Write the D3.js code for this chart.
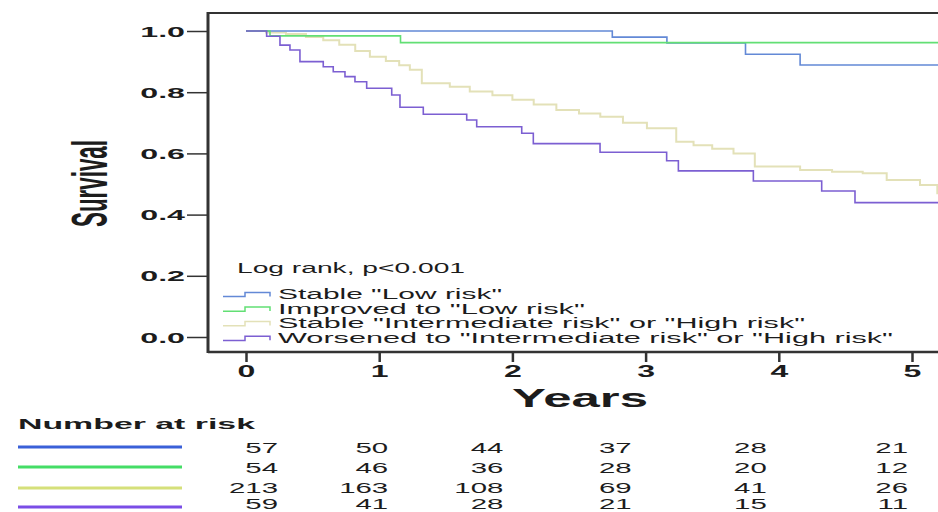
<!DOCTYPE html>
<html>
<head>
<meta charset="utf-8">
<script src="https://cdn.jsdelivr.net/npm/d3@7"></script>
<style>
  html, body { margin: 0; padding: 0; background: #fff; }
  svg { display: block; font-family: "Liberation Sans", Arial, sans-serif; }
</style>
</head>
<body>
<svg id="chart" width="938" height="512"></svg>
<script>
// ---------------- data ----------------
const groupNames = [
  'Stable "Low risk"',
  'Improved to "Low risk"',
  'Stable "Intermediate risk" or "High risk"',
  'Worsened to "Intermediate risk" or "High risk"'
];
const yearTicks = [0, 1, 2, 3, 4, 5];
const survivalTicks = [0.0, 0.2, 0.4, 0.6, 0.8, 1.0];

const stableLowTimes = [0, 2.75, 3.16, 3.75, 4.16];
const stableLowSurv  = [1, 0.980, 0.961, 0.924, 0.889];

const improvedLowTimes = [0, 0.18, 1.16];
const improvedLowSurv  = [1, 0.984, 0.962];

const stableIntHighTimes = [0, 0.15, 0.3, 0.45, 0.58, 0.7, 0.82, 0.93, 1.05, 1.15, 1.23, 1.32, 1.53, 1.68, 1.85, 2.0, 2.16, 2.33, 2.5, 2.66, 2.83, 3.01, 3.23, 3.36, 3.5, 3.66, 3.82, 4.16, 4.4, 4.63, 4.81, 5.06, 5.19];
const stableIntHighSurv  = [1, 0.995, 0.99, 0.98, 0.97, 0.955, 0.935, 0.916, 0.902, 0.888, 0.873, 0.829, 0.818, 0.802, 0.79, 0.775, 0.76, 0.742, 0.73, 0.72, 0.70, 0.682, 0.638, 0.627, 0.615, 0.60, 0.557, 0.546, 0.54, 0.535, 0.513, 0.497, 0.47];

const worsenedTimes = [0, 0.155, 0.255, 0.33, 0.405, 0.58, 0.655, 0.743, 0.818, 0.906, 1.094, 1.156, 1.331, 1.657, 1.732, 2.07, 2.157, 2.658, 3.158, 3.246, 3.809, 4.322, 4.572];
const worsenedSurv  = [1, 0.983, 0.954, 0.938, 0.900, 0.883, 0.867, 0.851, 0.834, 0.813, 0.791, 0.751, 0.728, 0.709, 0.687, 0.666, 0.632, 0.604, 0.576, 0.543, 0.510, 0.477, 0.439];

const followUpEnd = 5.6;

const riskStableLow     = [57, 50, 44, 37, 28, 21];
const riskImprovedLow   = [54, 46, 36, 28, 20, 12];
const riskStableIntHigh = [213, 163, 108, 69, 41, 26];
const riskWorsened      = [59, 41, 28, 21, 15, 11];

// ---------------- styles / layout ----------------
const curveColors = ["#6389d6", "#62df74", "#e3e1b8", "#7c5fd2"];
const tableColors = ["#3a60d8", "#44dd66", "#d5e07a", "#7a4de6"];
const ink = "#1c1c1c";
const frame = { left: 208, top: 13, bottom: 352, right: 980 };
const riskColNudge = [32, 9, -9, -14, -12, -4];

const series = [
  { times: stableLowTimes, surv: stableLowSurv },
  { times: improvedLowTimes, surv: improvedLowSurv },
  { times: stableIntHighTimes, surv: stableIntHighSurv },
  { times: worsenedTimes, surv: worsenedSurv }
];
const riskRows = [riskStableLow, riskImprovedLow, riskStableIntHigh, riskWorsened];

const svg = d3.select("#chart");

const x = d3.scaleLinear().domain([0, 5]).range([246, 912]);
const y = d3.scaleLinear().domain([0, 1]).range([337, 31]);

function txt(parent, s, tx, ty, o) {
  const sx = o.sx || 2;
  const t = parent.append("text")
    .attr("transform", `translate(${tx},${ty}) scale(${sx},1)`)
    .attr("text-anchor", o.anchor || "start")
    .attr("fill", ink)
    .style("font-size", o.size + "px")
    .style("font-weight", o.weight || "normal")
    .text(s);
  if (o.width) t.attr("textLength", o.width / sx).attr("lengthAdjust", "spacingAndGlyphs");
  return t;
}

// clip for curves
svg.append("defs").append("clipPath").attr("id", "plotclip")
  .append("rect").attr("x", frame.left).attr("y", frame.top)
  .attr("width", frame.right - frame.left).attr("height", frame.bottom - frame.top);

// curves
const line = d3.line().x(d => x(d[0])).y(d => y(d[1])).curve(d3.curveStepAfter);
const curveG = svg.append("g").attr("clip-path", "url(#plotclip)");
[2, 0, 1, 3].forEach(i => {
  const s = series[i];
  const pts = s.times.map((t, k) => [t, s.surv[k]]);
  pts.push([followUpEnd, s.surv[s.surv.length - 1]]);
  curveG.append("path").datum(pts)
    .attr("d", line)
    .attr("fill", "none")
    .attr("stroke", curveColors[i])
    .attr("stroke-width", i === 2 ? 2 : 1.6);
});

// frame
svg.append("line").attr("x1", frame.left).attr("x2", 938).attr("y1", frame.top).attr("y2", frame.top)
  .attr("stroke", "#333").attr("stroke-width", 2);
svg.append("line").attr("x1", frame.left).attr("x2", 938).attr("y1", frame.bottom).attr("y2", frame.bottom)
  .attr("stroke", "#333").attr("stroke-width", 2.5);
svg.append("line").attr("x1", frame.left).attr("x2", frame.left).attr("y1", frame.top - 1).attr("y2", frame.bottom + 1)
  .attr("stroke", "#333").attr("stroke-width", 3);

// y axis
const yAxisG = svg.append("g").attr("transform", `translate(${frame.left},0)`)
  .call(d3.axisLeft(y).tickValues(survivalTicks).tickSize(21).tickFormat(d3.format(".1f")));
yAxisG.select(".domain").remove();
yAxisG.selectAll(".tick line").attr("stroke", "#333").attr("stroke-width", 1.5);
yAxisG.selectAll(".tick text")
  .attr("x", null).attr("dy", null)
  .attr("transform", "translate(-23,5) scale(2.3,1)")
  .attr("fill", ink)
  .style("font-size", "14px").style("font-weight", "bold")
  .style("font-family", "'Liberation Sans', Arial, sans-serif");

// x axis
const xAxisG = svg.append("g").attr("transform", `translate(0,${frame.bottom})`)
  .call(d3.axisBottom(x).tickValues(yearTicks).tickSize(10).tickFormat(d3.format("d")));
xAxisG.select(".domain").remove();
xAxisG.selectAll(".tick line").attr("stroke", "#333").attr("stroke-width", 2.5);
xAxisG.selectAll(".tick text")
  .attr("y", null).attr("dy", null)
  .attr("transform", "translate(0,25) scale(2,1)")
  .attr("fill", ink)
  .style("font-size", "16px").style("font-weight", "bold")
  .style("font-family", "'Liberation Sans', Arial, sans-serif");

// axis titles
svg.append("text")
  .attr("transform", "translate(107,183.5) rotate(-90)")
  .attr("text-anchor", "middle")
  .attr("textLength", 87).attr("lengthAdjust", "spacingAndGlyphs")
  .attr("fill", ink)
  .style("font-size", "50px").style("font-weight", "bold")
  .text("Survival");
txt(svg, "Years", 580, 407, { size: 25, weight: "bold", anchor: "middle", width: 136 });

// legend
txt(svg, "Log rank, p<0.001", 237, 273, { size: 14, width: 228 });
const legendWidths = [224, 307, 527, 615];
groupNames.forEach((name, i) => {
  const yb = 299 + i * 14.6;
  const yl = yb - 2.4, yh = yb - 6.6;
  svg.append("path")
    .attr("d", `M223,${yl}H245V${yh}H270V${yh + 4}`)
    .attr("fill", "none").attr("stroke", curveColors[i]).attr("stroke-width", 1.5);
  txt(svg, name, 278, yb, { size: 14, width: legendWidths[i] });
});

// number at risk
txt(svg, "Number at risk", 18, 429, { size: 15, weight: "bold", width: 237 });
const rowY = [447, 467, 488, 507];
const rowBase = [452.5, 472.5, 493, 508.5];
riskRows.forEach((row, i) => {
  svg.append("line").attr("x1", 18).attr("x2", 182).attr("y1", rowY[i]).attr("y2", rowY[i])
    .attr("stroke", tableColors[i]).attr("stroke-width", 3);
  row.forEach((v, j) => {
    txt(svg, String(v), x(yearTicks[j]) + riskColNudge[j], rowBase[i], { size: 14, sx: 2.1, anchor: "end" });
  });
});
</script>
</body>
</html>
